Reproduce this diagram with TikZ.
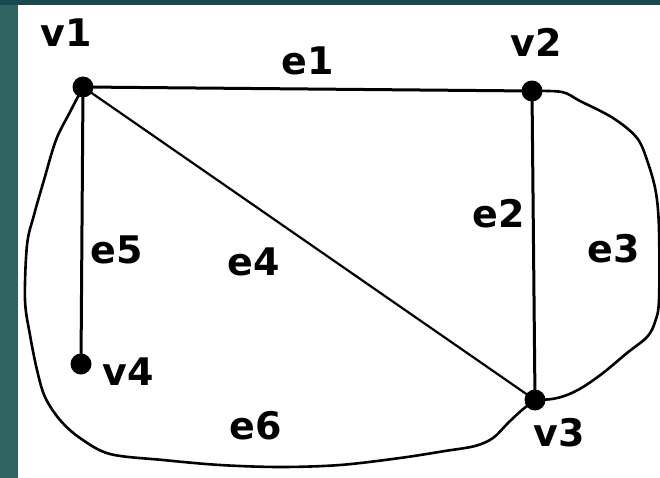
\documentclass[tikz,border=0pt]{standalone}
\usepackage{fontspec}
\setmainfont{DejaVu Sans}
\definecolor{stripteal}{HTML}{2E6462}
\definecolor{topteal}{HTML}{184850}
\begin{document}
\begin{tikzpicture}[x=1pt,y=-1pt,
  vertex/.style={circle,fill=black,inner sep=0pt,minimum size=21pt},
  lbl/.style={anchor=base,inner sep=0pt,font=\fontsize{38}{40}\selectfont\bfseries},
  edge/.style={line width=3pt},
  thinedge/.style={line width=2.2pt},
  curved/.style={line width=2.6pt,line join=round}]
\useasboundingbox (0,0) rectangle (660,478);
\fill[white] (0,0) rectangle (660,478);
\fill[stripteal] (0,0) rectangle (18,478);
\fill[topteal] (0,0) rectangle (660,5);

\node[vertex] (v1) at (83,87) {};
\node[vertex] (v2) at (532,91) {};
\node[vertex] (v3) at (535,400) {};
\node[vertex] (v4) at (81,364) {};

\draw[edge] (v1.center) -- (v2.center);
\draw[edge] (v2.center) -- (v3.center);
\draw[thinedge] (v1.center) -- (v3.center);
\draw[edge] (v1.center) -- (v4.center);

\draw[curved] plot[smooth,tension=0.55] coordinates {(v1.center) (70,112) (56,140) (44,180) (34,215) (27,245) (25,300) (30,335) (37,370) (45,397) (60,420) (80,438) (110,454) (163,460) (220,465) (280,467) (340,465) (400,458) (445,451) (475,446) (493,438) (508,423) (522,410) (v3.center)};

\draw[curved] plot[smooth,tension=0.55] coordinates {(v2.center) (562,92) (580,101) (613,118) (637,138) (648,163) (656,193) (659,230) (659,300) (655,322) (647,337) (627,353) (603,373) (583,387) (567,395) (552,399) (v3.center)};

\node[lbl] (lv1) at (66,47) {v1};
\node[lbl] (lv2) at (536,57) {v2};
\node[lbl] (lv3) at (559,446) {v3};
\node[lbl] (lv4) at (128,385) {v4};
\node[lbl] (le1) at (308,75) {e1};
\node[lbl] (le2) at (499,227) {e2};
\node[lbl] (le3) at (614,262) {e3};
\node[lbl] (le4) at (254,275) {e4};
\node[lbl] (le5) at (117,263) {e5};
\node[lbl] (le6) at (256,439) {e6};
\end{tikzpicture}
\end{document}
